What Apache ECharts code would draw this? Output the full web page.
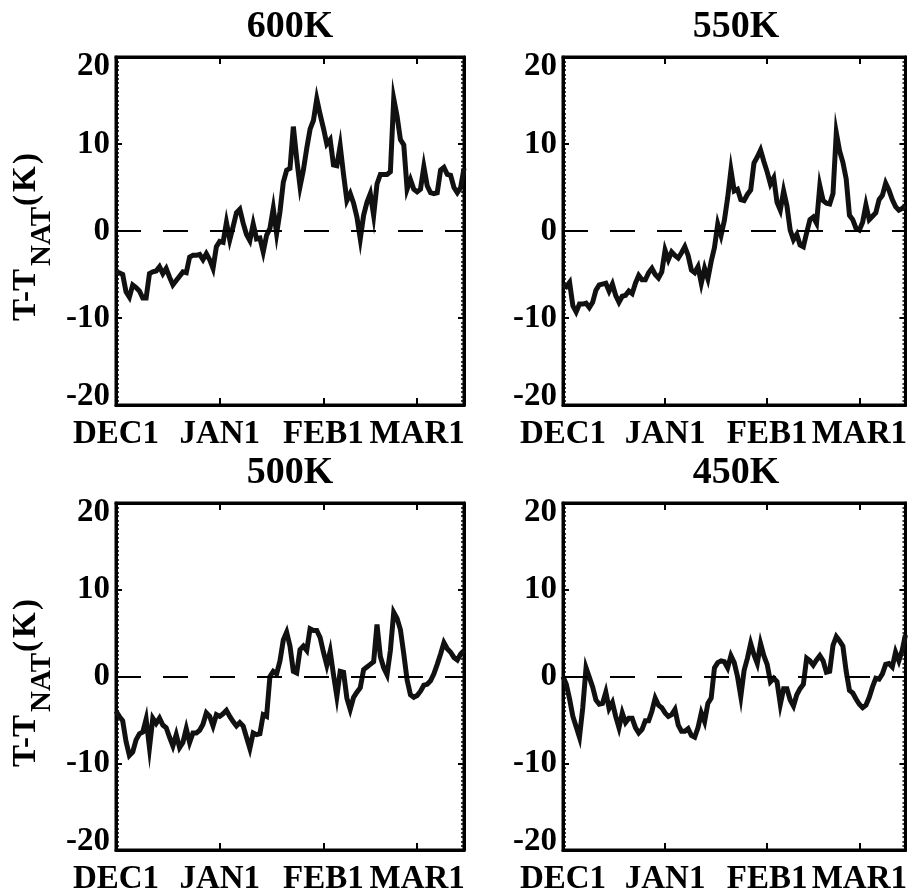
<!DOCTYPE html>
<html><head><meta charset="utf-8">
<script src="https://cdn.jsdelivr.net/npm/echarts@6/dist/echarts.min.js"></script>
<style>html,body{margin:0;padding:0;background:#fff}#c{width:910px;height:896px}</style>
</head><body><div id="c"></div>
<script>
const levels = ['600K', '550K', '500K', '450K'];
const tickDays = [0, 31, 62, 90];
const tickLabels = ['DEC1', 'JAN1', 'FEB1', 'MAR1'];
const yTicks = [-20, -10, 0, 10, 20];
// day index 0 = Dec 1 ... 104 = Mar 15
const days = Array.from({length: 105}, (_, i) => i);

const t600 = [-4.7,-4.8,-5.0,-7.0,-7.6,-6.2,-6.5,-6.9,-7.7,-7.7,
  -4.9,-4.7,-4.6,-4.1,-4.9,-4.3,-5.3,-6.2,-5.7,-5.2,
  -4.7,-4.8,-3.0,-2.8,-2.8,-2.7,-3.3,-2.6,-3.3,-4.3,
  -1.8,-1.2,-1.3,1.0,-1.0,0.5,2.1,2.5,0.9,-0.4,
  -1.1,0.8,-0.9,-0.8,-2.4,-0.5,0.3,2.6,-0.3,2.2,
  5.6,7.0,7.2,12.0,8.3,5.1,7.0,9.5,11.7,12.7,
  15.2,13.4,11.8,10.0,10.5,7.6,7.5,9.8,6.5,3.5,
  4.3,3.2,1.6,-0.9,1.8,3.3,4.3,1.8,5.4,6.5,
  6.5,6.5,6.8,15.2,13.2,10.5,9.9,4.8,5.9,4.8,
  4.5,4.8,7.4,5.2,4.4,4.3,4.4,7.0,7.3,6.5,
  6.4,5.0,4.4,5.0,7.2];
const t550 = [-6.2,-6.4,-5.9,-8.6,-9.3,-8.4,-8.4,-8.3,-8.8,-8.2,
  -6.8,-6.2,-6.1,-6.0,-6.9,-6.1,-7.4,-8.2,-7.5,-7.4,
  -6.9,-7.2,-6.0,-5.1,-5.6,-5.6,-4.8,-4.3,-5.0,-5.4,
  -4.7,-2.2,-3.3,-2.4,-2.8,-3.1,-2.5,-1.8,-2.8,-4.5,
  -4.8,-4.1,-6.0,-4.3,-5.5,-3.5,-1.9,0.8,-0.5,1.2,
  3.8,7.0,4.6,4.8,3.6,3.5,4.2,4.7,7.8,8.5,
  9.3,8.0,6.8,5.4,6.1,3.3,2.4,4.6,2.9,0.1,
  -1.0,-0.4,-1.6,-1.8,-0.2,1.3,1.6,0.9,5.2,3.5,
  3.2,3.1,4.3,11.3,9.2,7.9,6.0,1.8,1.3,0.3,
  0.1,1.0,3.0,1.3,1.7,2.1,3.6,4.1,5.5,4.7,
  3.6,2.8,2.4,2.6,2.9];
const t500 = [-4.0,-4.6,-5.1,-7.5,-9.1,-8.7,-7.3,-6.6,-6.4,-4.9,
  -8.2,-4.8,-5.4,-4.8,-5.6,-5.9,-7.0,-8.0,-6.7,-8.2,
  -7.6,-6.0,-7.6,-6.5,-6.5,-6.2,-5.5,-4.2,-4.6,-5.7,
  -4.4,-4.6,-4.3,-3.9,-4.6,-5.2,-5.7,-5.3,-5.7,-7.0,
  -8.3,-6.5,-6.7,-6.6,-4.4,-4.6,0.0,0.6,0.3,1.8,
  4.2,5.1,3.5,0.6,0.4,3.1,3.5,3.0,5.5,5.3,
  5.3,4.5,2.8,1.3,2.9,0.2,-2.3,0.6,0.5,-2.5,
  -3.8,-2.4,-1.8,-1.3,0.8,1.1,1.4,1.7,6.0,2.3,
  1.0,0.2,3.0,7.4,6.7,5.4,2.6,-0.4,-2.1,-2.4,
  -2.2,-1.7,-1.0,-0.9,-0.5,0.3,1.4,2.6,3.9,3.2,
  2.8,2.2,1.9,2.6,3.0];
const t450 = [0.0,-0.9,-2.6,-4.6,-5.8,-7.0,-3.6,1.0,-0.1,-1.2,
  -2.7,-3.2,-3.1,-1.8,-3.7,-3.0,-4.6,-5.9,-4.2,-5.3,
  -4.8,-4.8,-5.9,-6.5,-6.1,-5.1,-5.1,-4.0,-2.5,-3.3,
  -3.6,-4.2,-4.6,-4.4,-3.8,-5.6,-6.3,-6.3,-6.0,-6.8,
  -7.0,-5.9,-4.2,-5.2,-3.1,-2.5,1.0,1.6,1.8,1.7,
  1.0,2.4,1.6,0.0,-2.3,0.7,2.1,3.8,2.5,1.5,
  3.8,2.4,1.4,-0.6,-0.2,-0.6,-3.2,-1.4,-1.4,-2.7,
  -3.4,-2.1,-1.4,-0.9,2.1,1.8,1.3,1.9,2.4,1.8,
  0.5,0.6,3.6,4.6,4.1,3.5,0.6,-1.6,-1.9,-2.6,
  -3.2,-3.6,-3.3,-2.4,-1.2,-0.2,-0.3,0.3,1.4,1.5,
  1.1,2.8,1.8,3.0,4.8];

const seriesData = [t600, t550, t500, t450];
const FONT = '"Liberation Serif", "Times New Roman", serif';
const grids = [
  {left: 116, top: 57, width: 348, height: 348},
  {left: 563, top: 57, width: 346, height: 348},
  {left: 116, top: 503, width: 348, height: 348},
  {left: 563, top: 503, width: 346, height: 348}
];
const lblFont = {fontSize: 33, fontWeight: 'bold', fontFamily: FONT, color: '#000'};
const axisLineStyle = {show: true, onZero: false, lineStyle: {color: '#000', width: 3}};

const option = {animation: false, backgroundColor: '#fff', grid: [], xAxis: [], yAxis: [], series: [], title: [], graphic: []};

grids.forEach((g, i) => {
  option.grid.push(Object.assign({show: true, borderColor: '#000', borderWidth: 3, backgroundColor: 'transparent'}, g));
  const xBase = {
    type: 'category', gridIndex: i, data: days, boundaryGap: false,
    axisLine: axisLineStyle, splitLine: {show: false},
    axisTick: {show: true, inside: true, length: 7, interval: (idx) => tickDays.indexOf(idx) > 0, lineStyle: {color: '#000', width: 2}}
  };
  option.xAxis.push(Object.assign({}, xBase, {
    position: 'bottom',
    axisLabel: Object.assign({show: true, margin: 13, interval: (idx) => tickDays.indexOf(idx) >= 0,
      formatter: (v, idx) => tickLabels[tickDays.indexOf(idx)]}, lblFont)
  }));
  option.xAxis.push(Object.assign({}, xBase, {position: 'top', axisLabel: {show: false}}));
  const yBase = {
    type: 'value', gridIndex: i, min: yTicks[0], max: yTicks[yTicks.length - 1], interval: 10,
    axisLine: axisLineStyle, splitLine: {show: false},
    axisTick: {show: true, inside: true, length: 6, lineStyle: {color: '#000', width: 2}},
    minorTick: {show: true, splitNumber: 20, length: 3, lineStyle: {color: '#000', width: 1.5}}
  };
  option.yAxis.push(Object.assign({}, yBase, {
    position: 'left',
    axisLabel: Object.assign({show: true, margin: 6,
      formatter: (v) => v === 20 ? '{t|20}' : (v === -20 ? '{b|-20}' : String(v)),
      rich: {
        t: Object.assign({padding: [18, 0, 0, 0]}, lblFont),
        b: Object.assign({padding: [0, 0, 18, 0]}, lblFont)
      }}, lblFont)
  }));
  option.yAxis.push(Object.assign({}, yBase, {position: 'right', axisLabel: {show: false}}));
  option.series.push({
    type: 'line', xAxisIndex: 2 * i, yAxisIndex: 2 * i, data: seriesData[i],
    symbol: 'none', showSymbol: false, clip: true,
    lineStyle: {color: '#111', width: 5, join: 'miter', miterLimit: 10},
    markLine: {silent: true, symbol: ['none', 'none'], label: {show: false},
      lineStyle: {color: '#000', width: 2, type: [25, 22]}, data: [{yAxis: 0}]}
  });
  option.title.push({
    text: levels[i], left: g.left + g.width / 2, top: g.top - 49, textAlign: 'center', padding: 0,
    textStyle: {fontSize: 38, fontWeight: 'bold', fontFamily: FONT, color: '#000'}
  });
  if (g.left < 300) {
    const cy = g.top + g.height / 2;
    const base = {type: 'text', rotation: Math.PI / 2};
    const mk = (x, y, text, size) => Object.assign({}, base, {x: x, y: y,
      style: {text: text, font: 'bold ' + size + 'px ' + FONT, fill: '#000', textAlign: 'left', textVerticalAlign: 'middle'}});
    option.graphic.push(mk(26, cy + 90, 'T-T', 33));
    option.graphic.push(mk(42.5, cy + 35, 'NAT', 29));
    option.graphic.push(mk(27, cy - 25, '(', 33));
    option.graphic.push(mk(26, cy - 39, 'K', 33));
    option.graphic.push(mk(27, cy - 67, ')', 33));
  }
});

const chart = echarts.init(document.getElementById('c'), null, {renderer: 'canvas'});
chart.setOption(option);
</script>
</body></html>
